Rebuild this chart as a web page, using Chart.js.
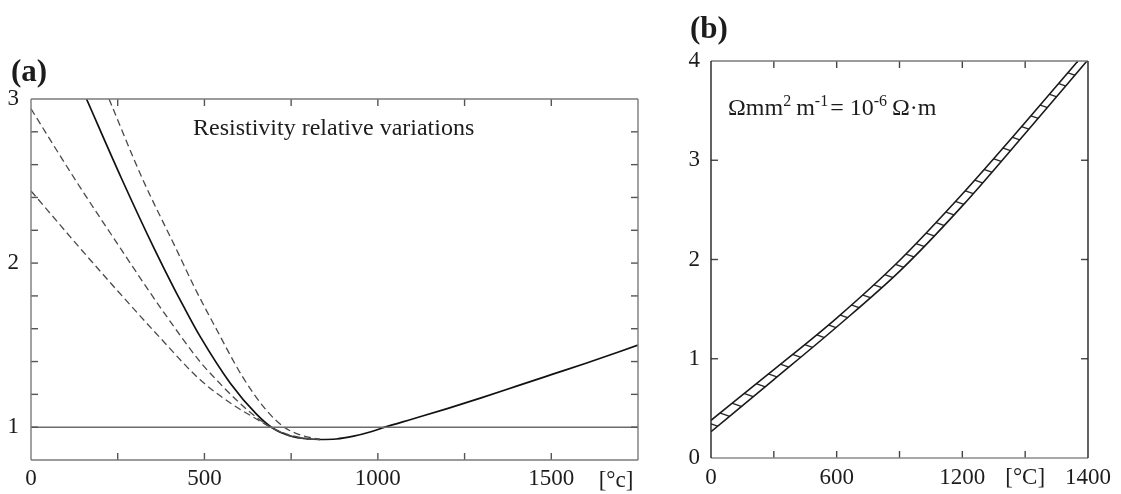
<!DOCTYPE html>
<html>
<head>
<meta charset="utf-8">
<title>Resistivity vs temperature</title>
<script src="https://cdn.jsdelivr.net/npm/chart.js@4.4.0/dist/chart.umd.min.js"></script>
<style>
  html, body { margin: 0; padding: 0; background: #fff; }
  #wrap { position: relative; width: 1121px; height: 494px; overflow: hidden; }
  #ca { position: absolute; left: 0; top: 0; }
  #cb { position: absolute; left: 660px; top: 0; }
</style>
</head>
<body>
<div id="wrap">
  <canvas id="ca" width="660" height="494"></canvas>
  <canvas id="cb" width="461" height="494"></canvas>
</div>
<script>
// ---------- (a) relative resistivity variation vs temperature [°C] ----------
const refTemp = [0, 1750];
const refLevel = [1, 1];

const solidTemp = [160, 260, 357, 415, 444, 487, 574, 650, 700, 750, 800, 833, 880, 930, 980, 1020, 1100, 1200, 1300, 1400, 1500, 1600, 1750];
const solidRel  = [3.0, 2.52, 2.08, 1.835, 1.72, 1.555, 1.27, 1.08, 0.99, 0.945, 0.928, 0.925, 0.928, 0.945, 0.972, 1.0, 1.05, 1.113, 1.18, 1.25, 1.32, 1.39, 1.5];

const steepTemp = [225, 320, 420, 473, 506, 525, 612, 680, 730, 780, 833];
const steepRel  = [3.0, 2.52, 2.08, 1.845, 1.71, 1.635, 1.30, 1.10, 1.0, 0.95, 0.925];

const upperTemp = [0, 130, 261, 337, 386, 487, 525, 600, 650, 700, 750, 800, 833];
const upperRel  = [2.94, 2.5, 2.08, 1.84, 1.69, 1.40, 1.31, 1.15, 1.06, 0.99, 0.945, 0.928, 0.925];

const lowerTemp = [0, 146, 250, 370, 487, 580, 650, 700, 750, 800, 833];
const lowerRel  = [2.44, 2.08, 1.83, 1.55, 1.29, 1.14, 1.05, 0.99, 0.95, 0.93, 0.925];

const xTicksA = [0, 500, 1000, 1500];
const yTicksA = [1, 2, 3];

// ---------- (b) resistivity band [Ω·mm²/m] ----------
const bandHighTemp = [0, 300, 600, 900, 1200, 1500, 1752];
const bandHighRho  = [0.38, 0.89, 1.41, 1.99, 2.66, 3.38, 4.0];
const bandLowTemp  = [0, 300, 600, 900, 1200, 1500, 1795];
const bandLowRho   = [0.265, 0.79, 1.32, 1.88, 2.54, 3.27, 4.0];

const xTicksB = [0, 300, 600, 900, 1200, 1500, 1800];
const xLabelsB = ['0', '', '600', '', '1200', '[°C]', '1400'];
const yTicksB = [0, 1, 2, 3, 4];

// ---------- shared styling ----------
const SERIF = '"Liberation Serif", "Times New Roman", serif';
const INK = '#1c1c1c';

const toPoints = (xs, ys) => xs.map((x, i) => ({ x, y: ys[i] }));

// frame around the plot with short tick marks pointing inwards
const frameTicks = {
  id: 'frameTicks',
  afterDatasetsDraw(chart, _args, o) {
    const { ctx, chartArea: a } = chart;
    const xs = chart.scales.x, ys = chart.scales.y;
    ctx.save();
    ctx.lineWidth = o.width;
    const seg = (x1, y1, x2, y2, c) => {
      ctx.strokeStyle = c;
      ctx.beginPath(); ctx.moveTo(x1, y1); ctx.lineTo(x2, y2); ctx.stroke();
    };
    for (let v = xs.min + o.xStep; v < xs.max - 1e-6; v += o.xStep) {
      const px = xs.getPixelForValue(v);
      seg(px, a.bottom, px, a.bottom - o.len, o.tickColor);
      seg(px, a.top, px, a.top + o.len, o.tickColor);
    }
    for (let v = o.yFrom; v < ys.max - 1e-6; v += o.yStep) {
      const py = ys.getPixelForValue(v);
      seg(a.left, py, a.left + o.len, py, o.tickColor);
      seg(a.right, py, a.right - o.len, py, o.tickColor);
    }
    seg(a.left, a.top, a.right, a.top, o.top);
    seg(a.left, a.bottom, a.right, a.bottom, o.bottom);
    seg(a.left, a.top, a.left, a.bottom, o.left);
    seg(a.right, a.top, a.right, a.bottom, o.right);
    ctx.restore();
  }
};

// free text: panel letters, captions, unit notes (supports superscripts)
const freeText = {
  id: 'freeText',
  afterDraw(chart, _args, o) {
    const ctx = chart.ctx;
    ctx.save();
    ctx.fillStyle = INK;
    for (const it of o.items) {
      ctx.textBaseline = it.baseline || 'alphabetic';
      ctx.textAlign = it.align || 'left';
      if (it.parts) {
        let x = it.x;
        for (const p of it.parts) {
          ctx.font = p.sup ? it.supFont : it.font;
          ctx.fillText(p.t, x, p.sup ? it.y - it.rise : it.y);
          x += ctx.measureText(p.t).width + (p.gap || 0);
        }
      } else {
        ctx.font = it.font;
        ctx.fillText(it.text, it.x, it.y);
      }
    }
    ctx.restore();
  }
};

function hatch() {
  const c = document.createElement('canvas');
  c.width = 40; c.height = 14;
  const g = c.getContext('2d');
  g.strokeStyle = '#2a2a2a';
  g.lineWidth = 1.3;
  for (const dy of [-14, 0, 14]) {
    g.beginPath(); g.moveTo(-40, -14 + dy); g.lineTo(80, 28 + dy); g.stroke();
  }
  return g.createPattern(c, 'repeat');
}

const lineBase = { pointRadius: 0, fill: false, cubicInterpolationMode: 'monotone' };
const tickFont = { family: SERIF, size: 23 };

// ---------- chart (a) ----------
new Chart(document.getElementById('ca'), {
  type: 'line',
  data: {
    datasets: [
      { ...lineBase, data: toPoints(refTemp, refLevel), borderColor: '#6c6c6c', borderWidth: 1.6 },
      { ...lineBase, data: toPoints(lowerTemp, lowerRel), borderColor: '#4a4a4a', borderWidth: 1.3, borderDash: [7, 4] },
      { ...lineBase, data: toPoints(upperTemp, upperRel), borderColor: '#4a4a4a', borderWidth: 1.3, borderDash: [7, 4] },
      { ...lineBase, data: toPoints(steepTemp, steepRel), borderColor: '#4a4a4a', borderWidth: 1.3, borderDash: [7, 4] },
      { ...lineBase, data: toPoints(solidTemp, solidRel), borderColor: '#111', borderWidth: 1.7 }
    ]
  },
  options: {
    responsive: false, animation: false, devicePixelRatio: 1,
    layout: { padding: { left: 0, right: 22, top: 99, bottom: 0 } },
    plugins: {
      legend: { display: false }, tooltip: { enabled: false },
      frameTicks: { width: 1.4, len: 7, xStep: 250, yFrom: 1.0, yStep: 0.2,
        tickColor: '#555', top: '#7a7a7a', bottom: '#7a7a7a', left: '#7a7a7a', right: '#7a7a7a' },
      freeText: { items: [
        { text: '(a)', x: 11, y: 81, font: 'bold 31px ' + SERIF },
        { text: 'Resistivity relative variations', x: 193, y: 135, font: '24px ' + SERIF },
        { text: '[°c]', x: 616, y: 487, align: 'center', font: '23px ' + SERIF }
      ] }
    },
    scales: {
      x: {
        type: 'linear', min: 0, max: 1750,
        grid: { display: false, drawTicks: false }, border: { display: false },
        afterBuildTicks: s => { s.ticks = xTicksA.map(v => ({ value: v })); },
        afterFit: s => { s.height = 34; },
        ticks: { padding: 5, font: tickFont, color: INK, maxRotation: 0, autoSkip: false, callback: v => String(v) }
      },
      y: {
        type: 'linear', min: 0.8, max: 3,
        grid: { display: false, drawTicks: false }, border: { display: false },
        afterBuildTicks: s => { s.ticks = yTicksA.map(v => ({ value: v })); },
        afterFit: s => { s.width = 31; },
        ticks: { padding: 12, font: tickFont, color: INK, autoSkip: false, callback: v => String(v) }
      }
    }
  },
  plugins: [frameTicks, freeText]
});

// ---------- chart (b) ----------
new Chart(document.getElementById('cb'), {
  type: 'line',
  data: {
    datasets: [
      { ...lineBase, data: toPoints(bandHighTemp, bandHighRho), borderColor: '#1a1a1a', borderWidth: 1.6 },
      { ...lineBase, data: toPoints(bandLowTemp, bandLowRho), borderColor: '#1a1a1a', borderWidth: 1.6,
        fill: '-1', backgroundColor: hatch() }
    ]
  },
  options: {
    responsive: false, animation: false, devicePixelRatio: 1,
    layout: { padding: { left: 0, right: 33, top: 61, bottom: 0 } },
    plugins: {
      legend: { display: false }, tooltip: { enabled: false },
      frameTicks: { width: 1.4, len: 7, xStep: 300, yFrom: 1, yStep: 1,
        tickColor: '#444', top: '#7a7a7a', bottom: '#8a8a8a', left: '#222', right: '#222' },
      freeText: { items: [
        { text: '(b)', x: 30, y: 38, font: 'bold 31px ' + SERIF },
        { x: 68, y: 115, font: '24px ' + SERIF, supFont: '16px ' + SERIF, rise: 9,
          parts: [
            { t: 'Ωmm' }, { t: '2', sup: true, gap: 5 }, { t: 'm' }, { t: '-1', sup: true, gap: 2 },
            { t: '= 10' }, { t: '-6', sup: true, gap: 5 }, { t: 'Ω·m' }
          ] }
      ] }
    },
    scales: {
      x: {
        type: 'linear', min: 0, max: 1800,
        grid: { display: false, drawTicks: false }, border: { display: false },
        afterBuildTicks: s => { s.ticks = xTicksB.map(v => ({ value: v })); },
        afterFit: s => { s.height = 36; },
        ticks: { padding: 6, font: tickFont, color: INK, maxRotation: 0, autoSkip: false,
          callback: (v, i) => xLabelsB[i] }
      },
      y: {
        type: 'linear', min: 0, max: 4,
        grid: { display: false, drawTicks: false }, border: { display: false },
        afterBuildTicks: s => { s.ticks = yTicksB.map(v => ({ value: v })); },
        afterFit: s => { s.width = 51; },
        ticks: { padding: 11, font: tickFont, color: INK, autoSkip: false, callback: v => String(v) }
      }
    }
  },
  plugins: [frameTicks, freeText]
});
</script>
</body>
</html>
